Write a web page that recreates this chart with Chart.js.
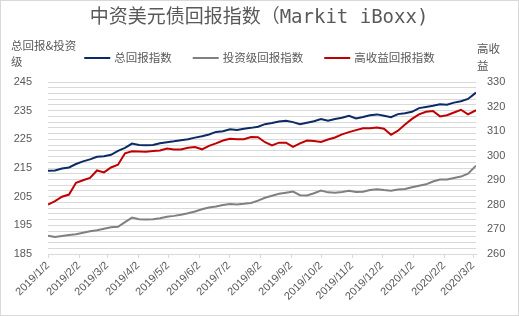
<!DOCTYPE html>
<html>
<head>
<meta charset="utf-8">
<script src="https://cdn.jsdelivr.net/npm/chart.js@4/dist/chart.umd.min.js"></script>
<style>
html,body{margin:0;padding:0;background:#fff;}
#wrap{width:519px;height:316px;position:relative;}
</style>
</head>
<body>
<div id="wrap"><canvas id="c" width="519" height="316"></canvas></div>
<script>
const titleText = '中资美元债回报指数（Markit iBoxx)';
const leftAxisTitle = ['总回报&投资', '级'];
const rightAxisTitle = ['高收', '益'];
const seriesNames = ['总回报指数', '投资级回报指数', '高收益回报指数'];

const dates = [
 '2019-01-02','2019-01-09','2019-01-16','2019-01-23','2019-01-30','2019-02-06','2019-02-13','2019-02-20','2019-02-27','2019-03-06',
 '2019-03-13','2019-03-20','2019-03-27','2019-04-03','2019-04-10','2019-04-17','2019-04-24','2019-05-01','2019-05-08','2019-05-15',
 '2019-05-22','2019-05-29','2019-06-05','2019-06-12','2019-06-19','2019-06-26','2019-07-03','2019-07-10','2019-07-17','2019-07-24',
 '2019-07-31','2019-08-07','2019-08-14','2019-08-21','2019-08-28','2019-09-04','2019-09-11','2019-09-18','2019-09-25','2019-10-02',
 '2019-10-09','2019-10-16','2019-10-23','2019-10-30','2019-11-06','2019-11-13','2019-11-20','2019-11-27','2019-12-04','2019-12-11',
 '2019-12-18','2019-12-25','2020-01-01','2020-01-08','2020-01-15','2020-01-22','2020-01-29','2020-02-05','2020-02-12','2020-02-19',
 '2020-02-26','2020-03-05'
];

const totalReturn = [
 214.0,214.1,214.8,215.2,216.4,217.3,218.0,218.9,219.1,219.6,
 221.0,222.0,223.5,223.0,222.9,223.0,223.6,224.0,224.3,224.7,
 225.0,225.6,226.1,226.7,227.6,227.8,228.5,228.3,228.7,229.0,
 229.4,230.3,230.7,231.2,231.5,231.0,230.3,230.8,231.3,232.1,
 231.5,232.1,232.5,233.2,232.3,232.8,233.4,233.7,233.2,232.7,
 233.8,234.1,234.6,235.9,236.3,236.7,237.2,237.1,237.8,238.3,
 239.1,241.3
];

const investmentGrade = [
 191.4,190.9,191.3,191.6,191.9,192.4,192.9,193.3,193.8,194.3,
 194.5,196.1,197.7,197.1,197.0,197.1,197.5,198.0,198.3,198.7,
 199.2,199.8,200.6,201.2,201.6,202.1,202.4,202.3,202.5,202.8,
 203.6,204.6,205.3,206.0,206.4,206.8,205.5,205.4,206.2,207.1,
 206.5,206.4,206.6,207.1,206.6,206.7,207.3,207.6,207.3,207.1,
 207.5,207.7,208.3,208.8,209.3,210.3,211.0,211.0,211.5,212.0,
 213.0,215.8
];

const highYield = [
 280.1,281.5,283.3,284.2,289.0,290.0,291.0,294.0,293.2,295.2,
 296.3,301.0,301.8,301.7,301.6,301.9,302.1,302.9,302.5,302.5,
 303.2,303.5,302.6,304.0,305.0,306.2,306.9,306.7,306.7,307.6,
 307.5,305.5,304.2,305.3,305.3,303.6,305.0,306.2,306.0,305.6,
 306.6,307.4,308.7,309.6,310.4,311.2,311.2,311.5,311.0,308.5,
 310.2,312.7,315.0,316.8,317.9,318.2,316.0,316.5,317.6,318.7,
 316.8,318.5
];

const xTickLabels = ['2019/1/2','2019/2/2','2019/3/2','2019/4/2','2019/5/2','2019/6/2','2019/7/2','2019/8/2','2019/9/2','2019/10/2','2019/11/2','2019/12/2','2020/1/2','2020/2/2','2020/3/2'];
const leftTicks = [185,195,205,215,225,235,245];
const rightTicks = [260,270,280,290,300,310,320,330];

const DAY = 86400000;
const origin = Date.UTC(2019,0,2);
function dayOf(s){ const p = s.split(/[-\/]/).map(Number); return Math.round((Date.UTC(p[0],p[1]-1,p[2]) - origin)/DAY); }
const xs = dates.map(dayOf);
const xTickVals = xTickLabels.map(dayOf);
function pts(arr){ return arr.map((v,i)=>({x: xs[i], y: v})); }

const colors = ['#0c2a63', '#808080', '#c00000'];
const txt = '#595959';
const gridC = '#d9d9d9';

const overlay = {
  id: 'overlay',
  afterDraw(chart){
    const ctx = chart.ctx;
    ctx.save();
    ctx.strokeStyle = gridC; ctx.lineWidth = 1;
    ctx.strokeRect(0.5, 0.5, 518, 315);
    ctx.fillStyle = txt;
    ctx.textBaseline = 'middle';
    ctx.textAlign = 'center';
    ctx.font = '19px "DejaVu Sans Mono", "Noto Sans CJK SC"';
    ctx.fillText(titleText, 259, 18);
    // legend
    ctx.font = '11.5px "Noto Sans CJK SC"';
    ctx.textAlign = 'left';
    const lineW = 26, gap = 4, itemGap = 21;
    let widths = seriesNames.map(n => ctx.measureText(n).width);
    let total = widths.reduce((a,b)=>a+b,0) + seriesNames.length*(lineW+gap) + (seriesNames.length-1)*itemGap;
    let x = (519 - total)/2;
    const ly = 58;
    seriesNames.forEach((n,i)=>{
      ctx.strokeStyle = colors[i]; ctx.lineWidth = 2;
      ctx.beginPath(); ctx.moveTo(x, ly); ctx.lineTo(x+lineW, ly); ctx.stroke();
      ctx.fillText(n, x+lineW+gap, ly);
      x += lineW + gap + widths[i] + itemGap;
    });
    // axis titles
    ctx.font = '11.5px "Noto Sans CJK SC"';
    ctx.fillText(leftAxisTitle[0], 11, 46);
    ctx.fillText(leftAxisTitle[1], 11, 62);
    ctx.fillText(rightAxisTitle[0], 477, 49);
    ctx.fillText(rightAxisTitle[1], 477, 66);
    ctx.restore();
  }
};

const tickFont = {family: '"Liberation Sans", Arial, sans-serif', size: 11};

new Chart(document.getElementById('c'), {
  type: 'line',
  data: {
    datasets: [
      {label: seriesNames[0], data: pts(totalReturn), borderColor: colors[0], yAxisID: 'y', borderWidth: 2, pointRadius: 0, tension: 0},
      {label: seriesNames[1], data: pts(investmentGrade), borderColor: colors[1], yAxisID: 'y', borderWidth: 2, pointRadius: 0, tension: 0},
      {label: seriesNames[2], data: pts(highYield), borderColor: colors[2], yAxisID: 'y1', borderWidth: 2, pointRadius: 0, tension: 0}
    ]
  },
  options: {
    responsive: false,
    devicePixelRatio: 1,
    animation: false,
    layout: {padding: {top: 82, left: 0, right: 0, bottom: 0}},
    plugins: {legend: {display: false}, title: {display: false}, tooltip: {enabled: false}},
    scales: {
      x: {
        type: 'linear', min: 0, max: xs[xs.length-1],
        afterBuildTicks: s => { s.ticks = xTickVals.map(v => ({value: v})); },
        afterFit: s => { s.height = 62; },
        ticks: {autoSkip: false, minRotation: 45, maxRotation: 45, padding: 1, color: txt, font: tickFont,
          callback: (v, i) => xTickLabels[i]},
        grid: {display: true, drawOnChartArea: false, drawTicks: true, tickLength: 4, color: gridC},
        border: {display: true, color: gridC}
      },
      y: {
        position: 'left', min: 185, max: 245,
        afterFit: s => { s.width = 48; },
        ticks: {stepSize: 2, autoSkip: false, padding: 16, color: txt, font: tickFont,
          callback: v => leftTicks.includes(v) ? String(v) : ''},
        grid: {color: gridC, drawTicks: false},
        border: {display: false}
      },
      y1: {
        position: 'right', min: 260, max: 330,
        afterFit: s => { s.width = 43; },
        ticks: {stepSize: 10, autoSkip: false, padding: 11, color: txt, font: tickFont,
          callback: v => rightTicks.includes(v) ? String(v) : ''},
        grid: {display: false, drawTicks: false},
        border: {display: false}
      }
    }
  },
  plugins: [overlay]
});
</script>
</body>
</html>
